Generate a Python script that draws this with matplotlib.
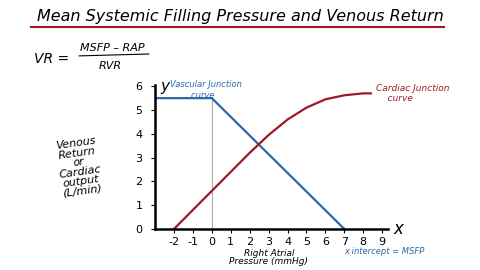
import numpy as np
import matplotlib.pyplot as plt

plt.rcParams["axes.unicode_minus"] = False

# vascular function curve (venous return)
vasc_x = [-3, 0, 7]
vasc_y = [5.5, 5.5, 0]

# cardiac function curve
card_x = [-2, -1, 0, 1, 2, 3, 4, 5, 6, 7, 8, 8.4]
card_y = [0, 0.8, 1.6, 2.4, 3.2, 3.95, 4.6, 5.1, 5.45, 5.62, 5.7, 5.7]

xticks = [-2, -1, 0, 1, 2, 3, 4, 5, 6, 7, 8, 9]
yticks = [0, 1, 2, 3, 4, 5, 6]

blue = "#2a6aa8"
red = "#a01828"

fig = plt.figure(figsize=(4.8, 2.7), dpi=100)
fig.patch.set_facecolor("white")
ax = fig.add_axes([0.323, 0.152, 0.485, 0.533])

ax.plot([0, 0], [0, 5.5], color="#aaaaaa", lw=0.8)
ax.plot(vasc_x, vasc_y, color=blue, lw=1.6)
ax.plot(card_x, card_y, color=red, lw=1.6)

ax.set_xlim(-3, 9.3)
ax.set_ylim(0, 6.05)
ax.set_xticks(xticks)
ax.set_yticks(yticks)
ax.tick_params(labelsize=8, length=3, width=0.8)
ax.tick_params(axis="y", pad=6)
ax.tick_params(axis="x", pad=3)
for s in ["top", "right"]:
    ax.spines[s].set_visible(False)
for s in ["left", "bottom"]:
    ax.spines[s].set_linewidth(1.8)

hand = dict(family="DejaVu Sans", style="italic")

ax.text(9.6, 0, "x", fontsize=12, va="center", **hand)
ax.text(-2.7, 6.0, "y", fontsize=11, va="center", **hand)
ax.text(-2.2, 5.85, "Vascular Junction\n        curve", color=blue, fontsize=6, va="center", **hand)
ax.text(8.7, 5.7, "Cardiac Junction\n    curve", color=red, fontsize=6.5, va="center", **hand)

fig.text(0.5, 0.94, "Mean Systemic Filling Pressure and Venous Return",
         ha="center", va="center", fontsize=11.5, **hand)
fig.add_artist(plt.Line2D([0.065, 0.925], [0.9, 0.9], color=red, lw=1.5))
fig.text(0.07, 0.78, "VR =", fontsize=10, va="center", **hand)
fig.text(0.235, 0.823, "MSFP \u2013 RAP", fontsize=8, ha="center", va="center", **hand)
fig.add_artist(plt.Line2D([0.165, 0.31], [0.793, 0.8], color="black", lw=0.8))
fig.text(0.23, 0.755, "RVR", fontsize=8, ha="center", va="center", **hand)
fig.text(0.165, 0.38, "Venous\nReturn\nor\nCardiac\noutput\n(L/min)", fontsize=8,
         ha="center", va="center", rotation=8, linespacing=0.95, **hand)
fig.text(0.56, 0.045, "Right Atrial\nPressure (mmHg)", fontsize=6.5, ha="center", va="center",
         linespacing=0.9, **hand)
fig.text(0.8, 0.068, "x intercept = MSFP", fontsize=6, color=blue, ha="center", va="center", **hand)

fig.savefig("out.png", dpi=100)
